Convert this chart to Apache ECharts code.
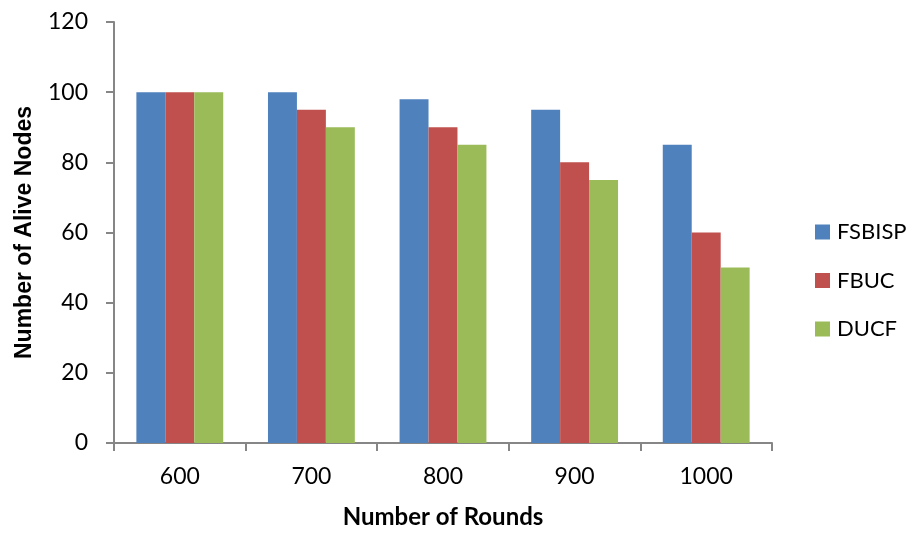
<!DOCTYPE html>
<html>
<head>
<meta charset="utf-8">
<script src="https://cdn.jsdelivr.net/npm/echarts@6/dist/echarts.min.js"></script>
<style>
  html, body { margin: 0; padding: 0; background: #fff; }
  #chart { width: 909px; height: 534px; }
</style>
</head>
<body>
<div id="chart"></div>
<script>
// Rounds on the x axis
const rounds = ['600', '700', '800', '900', '1000'];

// Alive nodes per protocol
const fsbisp = [100, 100, 98, 95, 85];
const fbuc = [100, 95, 90, 80, 60];
const ducf = [100, 90, 85, 75, 50];

const seriesNames = ['FSBISP', 'FBUC', 'DUCF'];
const seriesColors = ['#4F81BD', '#C0504D', '#9BBB59'];

const axisGray = '#868686';
const labelFont = 'Lato, "Open Sans", sans-serif';

const chart = echarts.init(document.getElementById('chart'), null, { renderer: 'canvas' });

chart.setOption({
  animation: false,
  backgroundColor: '#ffffff',
  color: seriesColors,
  grid: { left: 114, right: 137, top: 22, bottom: 88.5, containLabel: false },
  legend: {
    orient: 'vertical',
    left: 815,
    top: 221,
    padding: 0,
    itemWidth: 15,
    itemHeight: 15,
    itemGap: 26.5,
    icon: 'rect',
    data: seriesNames,
    textStyle: { fontFamily: labelFont, fontSize: 22, color: '#000', lineHeight: 22, padding: [0, 0, 0, 2] }
  },
  xAxis: {
    type: 'category',
    data: rounds,
    boundaryGap: true,
    name: 'Number of Rounds',
    nameLocation: 'middle',
    nameGap: 62,
    nameTextStyle: { fontFamily: labelFont, fontWeight: 'bold', fontSize: 24, color: '#000' },
    axisLine: { show: true, lineStyle: { color: axisGray, width: 2 } },
    axisTick: { show: true, alignWithLabel: false, length: 8, lineStyle: { color: axisGray, width: 2 } },
    axisLabel: { fontFamily: labelFont, fontSize: 23, color: '#000', margin: 22 },
    splitLine: { show: false }
  },
  yAxis: {
    type: 'value',
    min: 0,
    max: 120,
    interval: 20,
    name: 'Number of Alive Nodes',
    nameLocation: 'middle',
    nameGap: 78,
    nameRotate: 90,
    nameTextStyle: { fontFamily: '"Liberation Sans", Arial, sans-serif', fontWeight: 'bold', fontSize: 23, color: '#000' },
    axisLine: { show: true, lineStyle: { color: axisGray, width: 2 } },
    axisTick: { show: true, length: 8, lineStyle: { color: axisGray, width: 2 } },
    axisLabel: { fontFamily: labelFont, fontSize: 23, color: '#000', margin: 26 },
    splitLine: { show: false }
  },
  series: [
    { name: seriesNames[0], type: 'bar', data: fsbisp, barGap: '0%', barCategoryGap: '34%' },
    { name: seriesNames[1], type: 'bar', data: fbuc, barGap: '0%', barCategoryGap: '34%' },
    { name: seriesNames[2], type: 'bar', data: ducf, barGap: '0%', barCategoryGap: '34%' }
  ]
});
</script>
</body>
</html>
